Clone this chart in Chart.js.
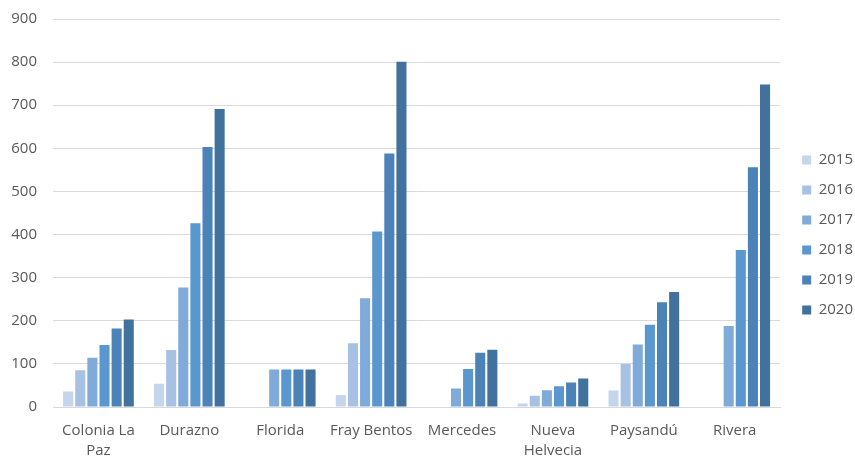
<!DOCTYPE html>
<html>
<head>
<meta charset="utf-8">
<script src="https://cdn.jsdelivr.net/npm/chart.js@4.4.1/dist/chart.umd.min.js"></script>
<style>
html,body{margin:0;padding:0;background:#fff;}
#wrap{width:855px;height:457px;position:relative;}
</style>
</head>
<body>
<div id="wrap"><canvas id="c" width="855" height="457"></canvas></div>
<script>
const categories = [["Colonia La","Paz"],"Durazno","Florida","Fray Bentos","Mercedes",["Nueva","Helvecia"],"Paysandú","Rivera"];
const years = ["2015","2016","2017","2018","2019","2020"];
const v2015 = [36, 54, null, 28, null, 8, 38, null];
const v2016 = [85, 132, null, 148, null, 26, 100, null];
const v2017 = [114, 277, 87, 252, 43, 39, 145, 188];
const v2018 = [144, 426, 87, 407, 88, 48, 191, 364];
const v2019 = [182, 603, 87, 588, 126, 57, 243, 556];
const v2020 = [203, 691, 87, 801, 133, 66, 267, 748];
const yTicks = [0,100,200,300,400,500,600,700,800,900];
const colors = ["#c5d5eb","#a6c1e4","#7faad9","#5b97cf","#4b83b9","#41719d"];
const series = [v2015,v2016,v2017,v2018,v2019,v2020];

const FONT = "'Open Sans', sans-serif";

const legendShift = {
  id: 'legendShift',
  afterLayout(chart) {
    const l = chart.legend;
    if (!l) return;
    l.left += 7; l.right += 7;
    l.top -= 3; l.bottom -= 3;
  }
};

new Chart(document.getElementById('c'), {
  type: 'bar',
  data: {
    labels: categories,
    datasets: series.map((d,i)=>({
      label: years[i],
      data: d,
      backgroundColor: colors[i],
      borderWidth: 0,
      categoryPercentage: 0.8,
      barPercentage: 0.83
    }))
  },
  options: {
    responsive: false,
    animation: false,
    layout: { autoPadding: false, padding: { left: 10, top: 19, right: -1, bottom: 0 } },
    plugins: {
      tooltip: { enabled: false },
      legend: {
        position: 'right',
        align: 'center',
        labels: {
          boxWidth: 9, boxHeight: 9, padding: 15,
          color: '#595959',
          font: { family: FONT, size: 15 }
        }
      }
    },
    scales: {
      x: {
        grid: { display: false, drawTicks: false },
        border: { display: true, color: '#d9d9d9' },
        ticks: { color: '#595959', font: { family: FONT, size: 15, lineHeight: 1.33 }, padding: 14, maxRotation: 0, autoSkip: false },
        afterFit: (a) => { a.height = 50; a.paddingLeft = 0; a.paddingRight = 0; }
      },
      y: {
        min: 0, max: 900,
        afterBuildTicks: (axis) => { axis.ticks = yTicks.map(v=>({value:v})); },
        grid: { color: '#d9d9d9', drawTicks: false },
        border: { display: false },
        ticks: { color: '#595959', font: { family: FONT, size: 15 }, padding: 16 },
        afterFit: (a) => { a.width = 43; a.paddingTop = 0; a.paddingBottom = 0; }
      }
    }
  },
  plugins: [legendShift]
});
</script>
</body>
</html>
